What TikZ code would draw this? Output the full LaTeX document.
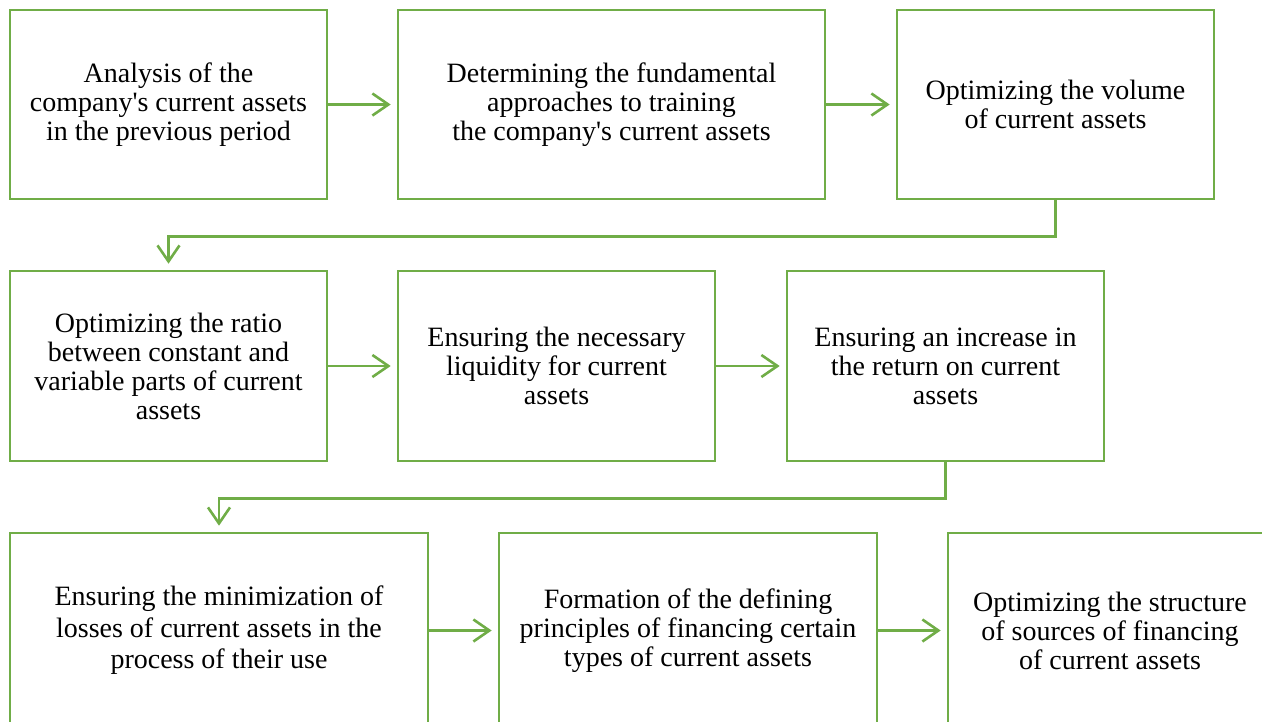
\documentclass[tikz,border=0pt]{standalone}
\usepackage{fontspec}
\setmainfont{Liberation Serif}[Ligatures=TeXOff]
\usetikzlibrary{arrows.meta,calc}
\definecolor{boxgreen}{HTML}{70AD47}
\begin{document}
\begin{tikzpicture}[x=1pt,y=-1pt,
  box/.style={draw=boxgreen, line width=2.6pt, rectangle, inner sep=0pt, align=center,
    font=\fontsize{28}{29}\selectfont},
  arr/.style={draw=boxgreen, line width=2.6pt,
    -{Straight Barb[length=16pt,width=22pt]}, shorten >=6pt}
]
\useasboundingbox (0,0) rectangle (1262,721);
\clip (0,0) rectangle (1262,721);
% row 1
\node[box, minimum width=317pt, minimum height=189pt] (b1) at (168.5,104.5)
  {Analysis of the\\company's current assets\\in the previous period};
\node[box, minimum width=427pt, minimum height=189pt] (b2) at (611.5,104.5)
  {Determining the fundamental\\approaches to training\\the company's current assets};
\node[box, minimum width=317pt, minimum height=189pt] (b3) at (1055.5,104.5)
  {Optimizing the volume\\of current assets};
% row 2
\node[box, minimum width=317pt, minimum height=190pt] (b4) at (168.5,366)
  {Optimizing the ratio\\between constant and\\variable parts of current\\assets};
\node[box, minimum width=317pt, minimum height=190pt] (b5) at (556.5,366)
  {Ensuring the necessary\\liquidity for current\\assets};
\node[box, minimum width=317pt, minimum height=190pt] (b6) at (945.5,366)
  {Ensuring an increase in\\the return on current\\assets};
% row 3
\node[box, minimum width=418pt, minimum height=195pt,
  font=\fontsize{28}{31.5}\selectfont] (b7) at (219,630.5)
  {Ensuring the minimization of\\losses of current assets in the\\process of their use};
\node[box, minimum width=378pt, minimum height=195pt] (b8) at (688,630.5)
  {Formation of the defining\\principles of financing certain\\types of current assets};
\node[box, minimum width=324pt, minimum height=195pt] (b9) at (1110,630.5)
  {Optimizing the structure\\of sources of financing\\of current assets};
% connectors
\draw[arr] (b1.east) -- (b2.west);
\draw[arr] (b2.east) -- (b3.west);
\draw[arr] (b3.south) -- ($(b3.south)+(0,36)$) -| (b4.north);
\draw[arr] (b4.east) -- (b5.west);
\draw[arr] (b5.east) -- (b6.west);
\draw[arr] (b6.south) -- ($(b6.south)+(0,36)$) -| (b7.north);
\draw[arr] (b7.east) -- (b8.west);
\draw[arr] (b8.east) -- (b9.west);
\end{tikzpicture}
\end{document}
